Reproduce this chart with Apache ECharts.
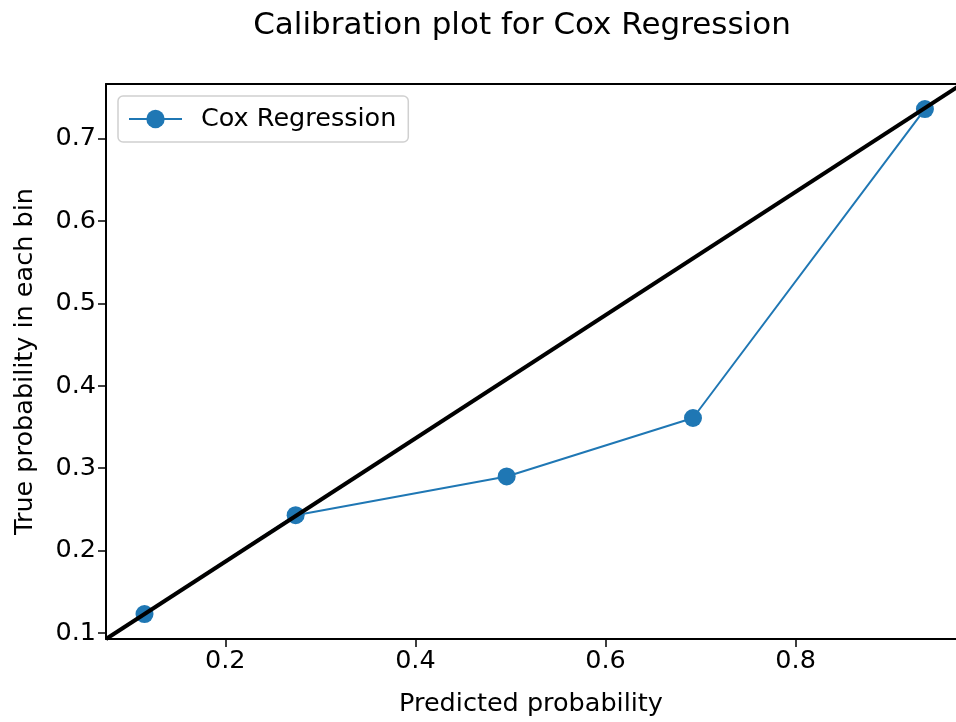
<!DOCTYPE html>
<html>
<head>
<meta charset="utf-8">
<script src="https://cdn.jsdelivr.net/npm/echarts@6/dist/echarts.min.js"></script>
<style>html,body{margin:0;padding:0;background:#fff}#c{width:956px;height:722px}</style>
</head>
<body>
<div id="c"></div>
<script>
// Data
const predicted = [0.115, 0.274, 0.496, 0.692, 0.936];
const observed = [0.123, 0.243, 0.290, 0.361, 0.736];
const xTicks = [0.2, 0.4, 0.6, 0.8];
const yTicks = [0.1, 0.2, 0.3, 0.4, 0.5, 0.6, 0.7];
// axes' visible range (the right part of the plot is cut off by the picture edge)
const xRange = [0.0745, 0.9687];
const yRange = [0.0927, 0.7665];
// reference diagonal runs from the lower-left corner to the (off-picture) upper-right corner
const diagX = [0.0745, 0.975];
const diagY = [0.0927, 0.7665];

const FONT = 'DejaVu Sans';
const FS = 25.5;
const chart = echarts.init(document.getElementById('c'), null, {renderer: 'canvas'});
chart.setOption({
  animation: false,
  backgroundColor: '#fff',
  title: {
    text: 'Calibration plot for Cox Regression',
    left: 517, textAlign: 'center', top: 5,
    textStyle: {color: '#000', fontSize: 31, fontWeight: 'normal', fontFamily: FONT}
  },
  legend: {
    data: ['Cox Regression'],
    left: 118, top: 96,
    padding: [10, 12, 10, 10],
    borderColor: '#d0d0d0', borderWidth: 1.5, borderRadius: 5,
    backgroundColor: 'rgba(255,255,255,0.8)',
    itemWidth: 53, itemHeight: 23, itemGap: 10,
    textStyle: {color: '#000', fontSize: FS, fontFamily: FONT, padding: [0, 0, 0, 14]}
  },
  grid: {left: 106, top: 84, right: 0, bottom: 78, show: false, containLabel: false},
  xAxis: [{
    type: 'value', min: xRange[0], max: xRange[1], position: 'bottom',
    name: 'Predicted probability', nameLocation: 'middle', nameGap: 52,
    nameTextStyle: {color: '#000', fontSize: FS, fontFamily: FONT},
    axisLine: {show: true, onZero: false, lineStyle: {color: '#000', width: 2}},
    axisTick: {show: true, inside: false, length: 8, customValues: xTicks, lineStyle: {color: '#000', width: 1.5}},
    splitLine: {show: false},
    axisLabel: {customValues: xTicks, color: '#000', fontSize: FS, fontFamily: FONT, margin: 9,
      formatter: v => v.toFixed(1)}
  }, {
    type: 'value', min: xRange[0], max: xRange[1], position: 'top',
    axisLine: {show: true, onZero: false, lineStyle: {color: '#000', width: 2}},
    axisTick: {show: false}, axisLabel: {show: false}, splitLine: {show: false}
  }],
  yAxis: {
    type: 'value', min: yRange[0], max: yRange[1],
    name: 'True probability in each bin', nameLocation: 'middle', nameGap: 68,
    nameTextStyle: {color: '#000', fontSize: FS, fontFamily: FONT},
    axisLine: {show: true, onZero: false, lineStyle: {color: '#000', width: 2}},
    axisTick: {show: true, inside: false, length: 8, customValues: yTicks, lineStyle: {color: '#000', width: 1.5}},
    splitLine: {show: false},
    axisLabel: {customValues: yTicks, color: '#000', fontSize: FS, fontFamily: FONT, margin: 10,
      formatter: v => v.toFixed(1)}
  },
  series: [
    {
      name: 'Cox Regression', type: 'line', z: 2,
      data: predicted.map((x, i) => [x, observed[i]]),
      symbol: 'circle', symbolSize: 18, showSymbol: true,
      itemStyle: {color: '#1f77b4'},
      lineStyle: {color: '#1f77b4', width: 2}
    },
    {
      name: 'diag', type: 'line', z: 3,
      data: [[diagX[0], diagY[0]], [diagX[1], diagY[1]]],
      symbol: 'none', clip: true,
      lineStyle: {color: '#000', width: 4}
    }
  ]
});
</script>
</body>
</html>
